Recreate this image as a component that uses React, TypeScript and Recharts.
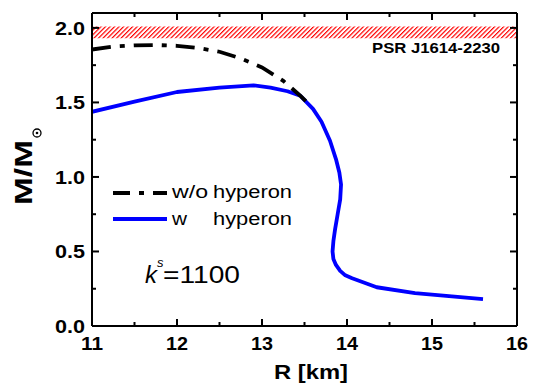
import { LineChart, Line, XAxis, YAxis, ReferenceArea } from 'recharts'

// mass-radius curves
const noHyperonR = [11.0, 11.25, 11.5, 11.75, 12.0, 12.25, 12.5, 12.75, 13.0, 13.25, 13.45, 13.55]
const noHyperonM = [1.855, 1.875, 1.883, 1.885, 1.88, 1.865, 1.84, 1.795, 1.735, 1.645, 1.545, 1.49]

const hyperonR = [
  11.0, 11.5, 12.0, 12.5, 12.9, 13.1, 13.3, 13.45, 13.6, 13.7, 13.8, 13.87, 13.91, 13.93, 13.92,
  13.89, 13.86, 13.84, 13.83, 13.84, 13.87, 13.92, 13.98, 14.06, 14.35, 14.8, 15.2, 15.6,
]
const hyperonM = [
  1.437, 1.505, 1.57, 1.6, 1.615, 1.6, 1.575, 1.545, 1.457, 1.37, 1.243, 1.12, 1.03, 0.95, 0.85,
  0.75, 0.65, 0.57, 0.5, 0.45, 0.41, 0.37, 0.34, 0.32, 0.26, 0.22, 0.2, 0.18,
]

const xTicks = [11, 11.5, 12, 12.5, 13, 13.5, 14, 14.5, 15, 15.5, 16]
const yTicks = [0, 0.25, 0.5, 0.75, 1.0, 1.25, 1.5, 1.75, 2.0]

// PSR J1614-2230 band
const psrLow = 1.93
const psrHigh = 2.01

const noHyperon = noHyperonR.map((r, i) => ({ r, m: noHyperonM[i] }))
const hyperon = hyperonR.map((r, i) => ({ r, m: hyperonM[i] }))

const font = 'Arial, "Liberation Sans", sans-serif'
const dashDot = '19 9 5 9'

const isMajorX = (v: number) => Number.isInteger(v)
const isMajorY = (v: number) => Math.abs(v * 2 - Math.round(v * 2)) < 1e-6

function BottomTick({ x, y, payload }: any) {
  const major = isMajorX(payload.value)
  return (
    <g>
      <line x1={x} x2={x} y1={y} y2={y - (major ? 7 : 4)} stroke="#000" strokeWidth={2} />
      {major && (
        <text
          x={x - 11}
          y={y + 24}
          fontFamily={font}
          fontWeight="bold"
          fontSize={19}
          fill="#000"
          textLength={22}
          lengthAdjust="spacingAndGlyphs"
        >
          {payload.value}
        </text>
      )}
    </g>
  )
}

function TopTick({ x, y, payload }: any) {
  const major = isMajorX(payload.value)
  return <line x1={x} x2={x} y1={y} y2={y + (major ? 7 : 4)} stroke="#000" strokeWidth={2} />
}

function LeftTick({ x, y, payload }: any) {
  const major = isMajorY(payload.value)
  return (
    <g>
      <line x1={x} x2={x + (major ? 7 : 4)} y1={y} y2={y} stroke="#000" strokeWidth={2} />
      {major && (
        <text
          x={x - 37}
          y={y + 7}
          fontFamily={font}
          fontWeight="bold"
          fontSize={19}
          fill="#000"
          textLength={30}
          lengthAdjust="spacingAndGlyphs"
        >
          {payload.value.toFixed(1)}
        </text>
      )}
    </g>
  )
}

function RightTick({ x, y, payload }: any) {
  const major = isMajorY(payload.value)
  return <line x1={x} x2={x - (major ? 7 : 4)} y1={y} y2={y} stroke="#000" strokeWidth={2} />
}

export default function App() {
  return (
    <div style={{ position: 'absolute', left: 0, top: 0, width: 543, height: 383, background: '#fff' }}>
      <LineChart width={543} height={383} margin={{ top: 12, right: 25, bottom: 0, left: 0 }}>
        <defs>
          <pattern id="hatch" patternUnits="userSpaceOnUse" width={3.2} height={3.2} patternTransform="rotate(45)">
            <rect width={3.2} height={3.2} fill="#fff" />
            <line x1={0} y1={0} x2={0} y2={3.2} stroke="#ff0000" strokeWidth={2.4} />
          </pattern>
        </defs>
        <XAxis
          xAxisId="b"
          type="number"
          dataKey="r"
          domain={[11, 16]}
          ticks={xTicks}
          interval={0}
          height={57}
          tickSize={0}
          tickMargin={0}
          tick={<BottomTick />}
          tickLine={false}
          axisLine={{ stroke: '#000', strokeWidth: 2 }}
          allowDataOverflow
        />
        <XAxis
          xAxisId="t"
          orientation="top"
          type="number"
          dataKey="r"
          domain={[11, 16]}
          ticks={xTicks}
          interval={0}
          height={1}
          tickSize={0}
          tickMargin={0}
          tick={<TopTick />}
          tickLine={false}
          axisLine={{ stroke: '#000', strokeWidth: 2 }}
          allowDataOverflow
        />
        <YAxis
          yAxisId="l"
          type="number"
          domain={[0, 2.1]}
          ticks={yTicks}
          interval={0}
          width={92}
          tickSize={0}
          tickMargin={0}
          tick={<LeftTick />}
          tickLine={false}
          axisLine={{ stroke: '#000', strokeWidth: 2 }}
          allowDataOverflow
        />
        <YAxis
          yAxisId="r"
          orientation="right"
          type="number"
          domain={[0, 2.1]}
          ticks={yTicks}
          interval={0}
          width={1}
          tickSize={0}
          tickMargin={0}
          tick={<RightTick />}
          tickLine={false}
          axisLine={{ stroke: '#000', strokeWidth: 2 }}
          allowDataOverflow
        />
        <ReferenceArea
          xAxisId="b"
          yAxisId="l"
          x1={11}
          x2={16}
          y1={psrLow}
          y2={psrHigh}
          fill="url(#hatch)"
          fillOpacity={1}
          stroke="none"
        />
        <Line
          xAxisId="b"
          yAxisId="l"
          data={hyperon}
          dataKey="m"
          stroke="#0000ff"
          strokeWidth={3.8}
          strokeLinejoin="round"
          dot={false}
          type="linear"
          isAnimationActive={false}
        />
        <Line
          xAxisId="b"
          yAxisId="l"
          data={noHyperon}
          dataKey="m"
          stroke="#000"
          strokeWidth={3.8}
          strokeDasharray={dashDot}
          dot={false}
          type="linear"
          isAnimationActive={false}
        />
      </LineChart>
      <svg
        width={543}
        height={383}
        style={{ position: 'absolute', left: 0, top: 0, pointerEvents: 'none' }}
        fontFamily={font}
      >
        <text x={500} y={53} textAnchor="end" fontWeight="bold" fontSize={15} textLength={128} lengthAdjust="spacingAndGlyphs">
          PSR J1614-2230
        </text>
        <line x1={113} x2={167} y1={193} y2={193} stroke="#000" strokeWidth={3.8} strokeDasharray="17 9 5 9" />
        <text x={172} y={198} fontSize={18} textLength={36} lengthAdjust="spacingAndGlyphs">w/o</text>
        <text x={213} y={198} fontSize={18} textLength={79} lengthAdjust="spacingAndGlyphs">hyperon</text>
        <line x1={113} x2={167} y1={219} y2={219} stroke="#0000ff" strokeWidth={3.8} />
        <text x={172} y={225} fontSize={18} textLength={15} lengthAdjust="spacingAndGlyphs">w</text>
        <text x={213} y={225} fontSize={18} textLength={79} lengthAdjust="spacingAndGlyphs">hyperon</text>
        <text x={145} y={283} fontSize={24} fontStyle="italic">k</text>
        <text x={157} y={267} fontSize={13} fontStyle="italic">s</text>
        <text x={163} y={283} fontSize={24} textLength={77} lengthAdjust="spacingAndGlyphs">=1100</text>
        <text
          transform="translate(32,205) rotate(-90)"
          x={0}
          y={0}
          fontWeight="bold"
          fontSize={23}
          textLength={65}
          lengthAdjust="spacingAndGlyphs"
        >
          M/M
        </text>
        <circle cx={37} cy={133} r={4} fill="none" stroke="#000" strokeWidth={1.3} />
        <circle cx={37} cy={133} r={1.3} fill="#000" />
        <text x={274} y={379} fontWeight="bold" fontSize={21} textLength={74} lengthAdjust="spacingAndGlyphs">
          R [km]
        </text>
      </svg>
    </div>
  )
}
